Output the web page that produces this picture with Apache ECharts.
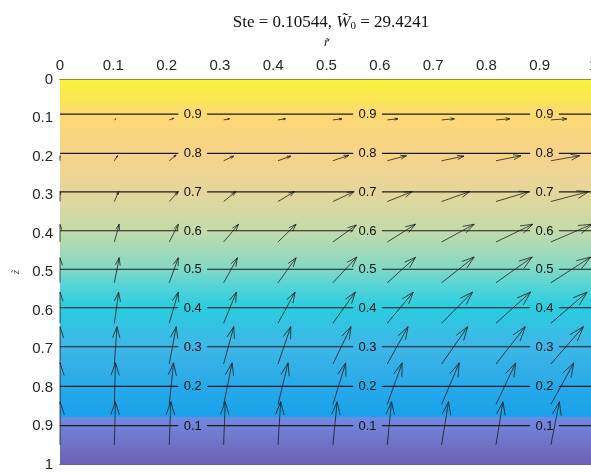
<!DOCTYPE html>
<html><head><meta charset="utf-8">
<script src="https://cdn.jsdelivr.net/npm/echarts@6/dist/echarts.min.js"></script>
<style>html,body{margin:0;padding:0;background:#fff}#c{width:591px;height:473px}</style>
</head><body><div id="c"></div>
<script>
// ---- tick labels ----
const xTickLabels = ['0','0.1','0.2','0.3','0.4','0.5','0.6','0.7','0.8','0.9','1'];
const yTickLabels = ['0','0.1','0.2','0.3','0.4','0.5','0.6','0.7','0.8','0.9','1'];

const fieldZ = [0, 0.090, 0.192, 0.292, 0.393, 0.493, 0.593, 0.694, 0.797, 0.899, 1];
const fieldT = [1, 0.9, 0.8, 0.7, 0.6, 0.5, 0.4, 0.3, 0.2, 0.1, 0];

// ---- contour levels and their z positions ----
const contourLevels = [0.9, 0.8, 0.7, 0.6, 0.5, 0.4, 0.3, 0.2, 0.1];
const contourZ = [0.090, 0.192, 0.292, 0.393, 0.493, 0.593, 0.694, 0.797, 0.899];
const contourLabelR = [0.249, 0.577, 0.909];

// ---- quiver grid ----
const quiverR = [0, 0.102, 0.205, 0.307, 0.409, 0.512, 0.614, 0.716, 0.818, 0.921];
const quiverZ = [0.105, 0.211, 0.317, 0.422, 0.528, 0.633, 0.739, 0.844, 0.949];
// horizontal component (r-units), one row per quiverZ
const quiverU = [
  [0, 0.003, 0.008, 0.011, 0.014, 0.017, 0.020, 0.024, 0.026, 0.030],
  [0, 0.006, 0.013, 0.019, 0.024, 0.030, 0.036, 0.042, 0.047, 0.054],
  [0, 0.008, 0.017, 0.023, 0.031, 0.040, 0.047, 0.053, 0.062, 0.071],
  [0, 0.009, 0.017, 0.028, 0.034, 0.044, 0.053, 0.061, 0.069, 0.077],
  [0, 0.009, 0.017, 0.026, 0.034, 0.045, 0.053, 0.061, 0.068, 0.075],
  [0, 0.008, 0.017, 0.024, 0.032, 0.042, 0.049, 0.058, 0.065, 0.068],
  [0, 0.005, 0.013, 0.019, 0.024, 0.034, 0.039, 0.049, 0.055, 0.061],
  [0, 0.002, 0.008, 0.016, 0.019, 0.024, 0.028, 0.033, 0.037, 0.043],
  [0, 0.002, 0.003, 0.003, 0.005, 0.008, 0.008, 0.013, 0.013, 0.016]
];
// vertical component (z-units; negative = toward z=0)
const quiverW = [
  [-0.001, -0.003, -0.004, -0.003, -0.003, -0.003, -0.003, -0.003, -0.003, -0.003],
  [-0.013, -0.013, -0.015, -0.012, -0.012, -0.014, -0.013, -0.012, -0.013, -0.013],
  [-0.026, -0.026, -0.026, -0.026, -0.026, -0.026, -0.026, -0.026, -0.026, -0.026],
  [-0.046, -0.046, -0.046, -0.046, -0.046, -0.044, -0.046, -0.046, -0.046, -0.046],
  [-0.065, -0.065, -0.065, -0.065, -0.065, -0.067, -0.066, -0.067, -0.067, -0.067],
  [-0.081, -0.081, -0.081, -0.081, -0.081, -0.081, -0.081, -0.081, -0.081, -0.081],
  [-0.097, -0.097, -0.097, -0.097, -0.097, -0.097, -0.097, -0.097, -0.097, -0.097],
  [-0.108, -0.108, -0.108, -0.108, -0.108, -0.108, -0.108, -0.108, -0.108, -0.108],
  [-0.112, -0.112, -0.112, -0.112, -0.112, -0.112, -0.112, -0.112, -0.112, -0.112]
];

// ---- colormap (level -> colour), styling ----
const cmapStops = [
  [0.00, '#6d60b3'], [0.10, '#7282d8'], [0.122, '#6a8ce2'], [0.125, '#19a2ea'],
  [0.20, '#27a9ea'], [0.30, '#3fb6e5'], [0.40, '#2bcce0'], [0.45, '#4ed3d8'],
  [0.50, '#80d8c6'], [0.60, '#c3dbaa'], [0.70, '#e5d69b'], [0.80, '#f5d38b'],
  [0.90, '#fdd972'], [0.95, '#fbe652'], [1.00, '#f8f53a']
];
function hex2rgb(h){return [parseInt(h.substr(1,2),16),parseInt(h.substr(3,2),16),parseInt(h.substr(5,2),16)];}
function cmap(t){
  if (t <= cmapStops[0][0]) return cmapStops[0][1];
  for (let i=1;i<cmapStops.length;i++){
    if (t <= cmapStops[i][0]){
      const a=cmapStops[i-1], b=cmapStops[i];
      const f=(t-a[0])/(b[0]-a[0]);
      const ca=hex2rgb(a[1]), cb=hex2rgb(b[1]);
      return 'rgb('+ca.map((v,k)=>Math.round(v+(cb[k]-v)*f)).join(',')+')';
    }
  }
  return cmapStops[cmapStops.length-1][1];
}

const bgData = [];
for (let i=0;i<fieldZ.length-1;i++) bgData.push([fieldZ[i], fieldZ[i+1], fieldT[i], fieldT[i+1]]);
const contourData = contourLevels.map((l,i)=>[l, contourZ[i]]);
const quiverData = [];
quiverZ.forEach((z,i)=>quiverR.forEach((r,j)=>quiverData.push([r, z, quiverU[i][j], quiverW[i][j]])));

function clipSeg(x1,y1,x2,y2,b){
  let t0=0,t1=1; const dx=x2-x1, dy=y2-y1;
  const p=[-dx,dx,-dy,dy], q=[x1-b.x0,b.x1-x1,y1-b.y0,b.y1-y1];
  for(let i=0;i<4;i++){
    if(p[i]===0){ if(q[i]<0) return null; }
    else { const t=q[i]/p[i]; if(p[i]<0){ if(t>t1) return null; if(t>t0) t0=t; } else { if(t<t0) return null; if(t<t1) t1=t; } }
  }
  return [x1+t0*dx,y1+t0*dy,x1+t1*dx,y1+t1*dy];
}

const chart = echarts.init(document.getElementById('c'), null, {renderer:'canvas'});
const axisCol = '#262626';
const baseAxis = {
  type:'value', min:0, max:1, interval:0.1,
  axisLine:{show:true, onZero:false, lineStyle:{color:axisCol, width:1}},
  axisTick:{show:true, inside:true, length:5, lineStyle:{color:axisCol, width:1}},
  splitLine:{show:false}
};
chart.setOption({
  animation:false,
  title:{
    text:'Ste = 0.10544, {w|W̃}{s|0} = 29.4241',
    left:326, top:8, textAlign:'center',
    textStyle:{fontFamily:'Liberation Serif', fontSize:17, fontWeight:'normal', color:'#111',
      rich:{w:{fontFamily:'Liberation Serif', fontStyle:'italic', fontSize:17, color:'#111'},
            s:{fontFamily:'Liberation Serif', fontSize:11, color:'#111', padding:[8,0,0,0]}}}
  },
  grid:{left:60, top:79.5, width:533, height:385, show:false, outerBoundsMode:'none', containLabel:false},
  xAxis:[
    Object.assign({}, baseAxis, {position:'top',
      axisLabel:{show:true, margin:6, fontSize:15, fontFamily:'Liberation Sans', color:axisCol,
        formatter:(v)=>xTickLabels[Math.round(v*10)]},
      name:'r̃', nameLocation:'middle', nameGap:30,
      nameTextStyle:{fontFamily:'Liberation Serif', fontStyle:'italic', fontSize:13, color:'#222'}}),
    Object.assign({}, baseAxis, {position:'bottom', axisLabel:{show:false}})
  ],
  yAxis:[
    Object.assign({}, baseAxis, {position:'left', inverse:true,
      axisLabel:{show:true, margin:7, fontSize:15, fontFamily:'Liberation Sans', color:axisCol,
        formatter:(v)=>yTickLabels[Math.round(v*10)]},
      name:'z̃', nameLocation:'middle', nameGap:36, nameRotate:90,
      nameTextStyle:{fontFamily:'Liberation Serif', fontStyle:'italic', fontSize:11, color:'#333'}}),
    Object.assign({}, baseAxis, {position:'right', inverse:true, axisLabel:{show:false}})
  ],
  series:[
    { type:'custom', name:'field', data:bgData, silent:true, z:1,
      encode:{x:[], y:[0,1]},
      renderItem:(params, api)=>{
        const z0=api.value(0), z1=api.value(1), t0=api.value(2), t1=api.value(3);
        const p0=api.coord([0,z0]), p1=api.coord([1,z1]);
        const stops=[{offset:0,color:cmap(t0)}];
        cmapStops.forEach(s=>{ if(s[0]<t0 && s[0]>t1) stops.push({offset:(t0-s[0])/(t0-t1), color:s[1]}); });
        stops.push({offset:1,color:cmap(t1)});
        stops.sort((a,b)=>a.offset-b.offset);
        return {type:'rect', shape:{x:p0[0], y:p0[1], width:p1[0]-p0[0], height:p1[1]-p0[1]+0.6},
          style:{fill:{type:'linear', x:0, y:0, x2:0, y2:1, colorStops:stops}}};
      }
    },
    { type:'custom', name:'contours', data:contourData, silent:true, z:3,
      encode:{x:[], y:1},
      renderItem:(params, api)=>{
        const lvl=api.value(0), z=api.value(1);
        const g=0.027; const children=[];
        const breaks=[0];
        contourLabelR.forEach(r=>{breaks.push(r-g); breaks.push(r+g);});
        breaks.push(1);
        for(let i=0;i<breaks.length;i+=2){
          const a=api.coord([breaks[i],z]), b=api.coord([breaks[i+1],z]);
          children.push({type:'line', shape:{x1:a[0],y1:a[1],x2:b[0],y2:b[1]},
            style:{stroke:'#1c1c1c', lineWidth:1.1}});
        }
        contourLabelR.forEach(r=>{
          const p=api.coord([r,z]);
          children.push({type:'text', style:{text:String(lvl), x:p[0], y:p[1]+0.5,
            textAlign:'center', textVerticalAlign:'middle', align:'center', verticalAlign:'middle',
            font:'13px "Liberation Sans"', fill:'#111'}});
        });
        return {type:'group', children};
      }
    },
    { type:'custom', name:'quiver', data:quiverData, silent:true, z:4,
      encode:{x:0, y:1},
      renderItem:(params, api)=>{
        const r=api.value(0), z=api.value(1), du=api.value(2), dw=api.value(3);
        const p0=api.coord([r,z]), p1=api.coord([r+du,z+dw]);
        const dx=p1[0]-p0[0], dy=p1[1]-p0[1];
        if (Math.hypot(dx,dy) < 0.5) return null;
        const a=0.3, b=0.33;
        const h1=[p1[0]-a*(dx+b*dy), p1[1]-a*(dy-b*dx)];
        const h2=[p1[0]-a*(dx-b*dy), p1[1]-a*(dy+b*dx)];
        const c0=api.coord([0,0]), c1=api.coord([1,1]);
        const box={x0:c0[0], x1:c1[0], y0:c0[1], y1:c1[1]};
        const segs=[[p0[0],p0[1],p1[0],p1[1]],[h1[0],h1[1],p1[0],p1[1]],[h2[0],h2[1],p1[0],p1[1]]];
        const children=[];
        segs.forEach(s=>{
          const c=clipSeg(s[0],s[1],s[2],s[3],box);
          if(c) children.push({type:'line', shape:{x1:c[0],y1:c[1],x2:c[2],y2:c[3]},
            style:{stroke:'#141414', lineWidth:0.75}});
        });
        return {type:'group', children};
      }
    }
  ]
});
</script></body></html>
